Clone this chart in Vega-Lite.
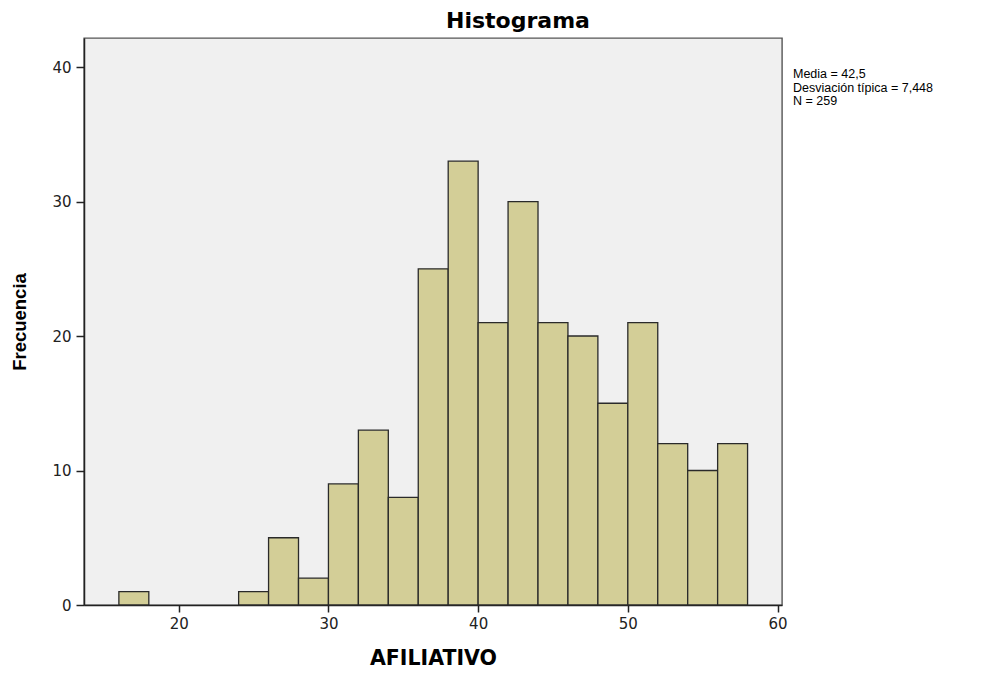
{
  "$schema": "https://vega.github.io/schema/vega-lite/v6.json",
  "autosize": {"type": "none"},
  "padding": {"left": 84, "top": 38, "right": 222, "bottom": 68},
  "width": 698,
  "height": 567,
  "background": "white",
  "title": {
    "text": "Histograma",
    "font": "DejaVu Sans",
    "fontSize": 22,
    "fontWeight": "bold",
    "color": "#000000",
    "anchor": "middle",
    "offset": 8,
    "baseline": "bottom",
    "dy": 25,
    "dx": 85
  },
  "config": {
    "view": {"fill": "#F0F0F0", "stroke": "#555555", "strokeWidth": 1.4},
    "font": "DejaVu Sans"
  },
  "datasets": {
    "bins": [
      {"bin_start": 16, "bin_end": 18, "count": 1},
      {"bin_start": 24, "bin_end": 26, "count": 1},
      {"bin_start": 26, "bin_end": 28, "count": 5},
      {"bin_start": 28, "bin_end": 30, "count": 2},
      {"bin_start": 30, "bin_end": 32, "count": 9},
      {"bin_start": 32, "bin_end": 34, "count": 13},
      {"bin_start": 34, "bin_end": 36, "count": 8},
      {"bin_start": 36, "bin_end": 38, "count": 25},
      {"bin_start": 38, "bin_end": 40, "count": 33},
      {"bin_start": 40, "bin_end": 42, "count": 21},
      {"bin_start": 42, "bin_end": 44, "count": 30},
      {"bin_start": 44, "bin_end": 46, "count": 21},
      {"bin_start": 46, "bin_end": 48, "count": 20},
      {"bin_start": 48, "bin_end": 50, "count": 15},
      {"bin_start": 50, "bin_end": 52, "count": 21},
      {"bin_start": 52, "bin_end": 54, "count": 12},
      {"bin_start": 54, "bin_end": 56, "count": 10},
      {"bin_start": 56, "bin_end": 58, "count": 12}
    ],
    "stats": [
      {"label": ["Media = 42,5", "Desviación típica = 7,448", "N = 259"]}
    ]
  },
  "layer": [
    {
      "data": {"name": "bins"},
      "mark": {"type": "rect", "fill": "#D3CE97", "stroke": "#2a2a2a", "strokeWidth": 1.3},
      "encoding": {
        "x": {
          "field": "bin_start",
          "type": "quantitative",
          "scale": {"domain": [13.67, 60.3], "nice": false, "zero": false},
          "axis": {
            "title": "AFILIATIVO",
            "titleFont": "DejaVu Sans",
            "titleFontSize": 20.5,
            "titleFontWeight": "bold",
            "titleColor": "#000000",
            "titlePadding": 17,
            "values": [20, 30, 40, 50, 60],
            "labelFont": "DejaVu Sans",
            "labelFontSize": 15,
            "labelColor": "#222222",
            "labelPadding": 4,
            "labelFlush": false,
            "tickColor": "#222222",
            "tickSize": 7,
            "tickWidth": 1.5,
            "domainColor": "#222222",
            "domainWidth": 1.5,
            "grid": false
          }
        },
        "x2": {"field": "bin_end"},
        "y": {
          "field": "count",
          "type": "quantitative",
          "scale": {"domain": [0, 42.16], "nice": false},
          "axis": {
            "title": "Frecuencia",
            "titleFont": "Liberation Sans",
            "titleFontSize": 18.5,
            "titleFontWeight": "bold",
            "titleColor": "#000000",
            "titlePadding": 22,
            "values": [0, 10, 20, 30, 40],
            "labelFont": "DejaVu Sans",
            "labelFontSize": 15,
            "labelColor": "#222222",
            "labelPadding": 5,
            "labelFlush": false,
            "tickColor": "#222222",
            "tickSize": 8,
            "tickWidth": 1.5,
            "domainColor": "#222222",
            "domainWidth": 1.5,
            "grid": false
          }
        },
        "y2": {"datum": 0}
      }
    },
    {
      "data": {"name": "stats"},
      "mark": {
        "type": "text",
        "align": "left",
        "baseline": "top",
        "font": "Liberation Sans",
        "fontSize": 12.5,
        "lineHeight": 13.5,
        "color": "#000000",
        "dx": 11,
        "dy": 1,
        "clip": false
      },
      "encoding": {
        "x": {"datum": 60.3, "type": "quantitative"},
        "y": {"datum": 40.0, "type": "quantitative"},
        "text": {"field": "label"}
      }
    }
  ]
}
